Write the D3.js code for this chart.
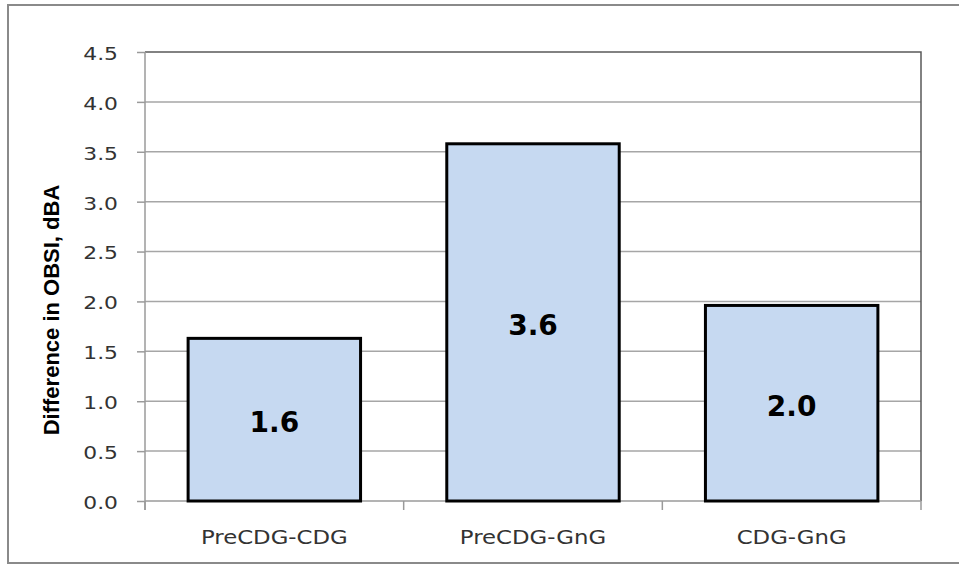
<!DOCTYPE html>
<html>
<head>
<meta charset="utf-8">
<script src="https://cdn.jsdelivr.net/npm/d3@7/dist/d3.min.js"></script>
<style>
  html, body { margin: 0; padding: 0; background: #fff; }
  svg { display: block; }
</style>
</head>
<body>
<svg id="chart" width="959" height="565"></svg>
<script>
// Bar chart data: OBSI differences between surface conditions
const categories = ["PreCDG-CDG", "PreCDG-GnG", "CDG-GnG"];
const values = [1.63, 3.58, 1.96];
const yTicks = [0, 0.5, 1, 1.5, 2, 2.5, 3, 3.5, 4, 4.5];
const yTitle = "Difference in OBSI, dBA";

const svg = d3.select("#chart");
const W = 959, H = 565;
const plot = { left: 145, top: 52, right: 921, bottom: 501 };

// outer chart frame
svg.append("rect")
  .attr("x", 8).attr("y", 5)
  .attr("width", W - 8 + 4).attr("height", 558)
  .attr("fill", "#fff")
  .attr("stroke", "#8a8a8a").attr("stroke-width", 2);

const x = d3.scaleBand()
  .domain(categories)
  .range([plot.left, plot.right])
  .paddingInner(1 / 3)
  .paddingOuter(1 / 6);

const y = d3.scaleLinear()
  .domain([0, 4.5])
  .range([plot.bottom, plot.top]);

// horizontal gridlines
svg.append("g")
  .selectAll("line")
  .data(yTicks.filter(d => d > 0 && d < 4.5))
  .join("line")
  .attr("x1", plot.left).attr("x2", plot.right)
  .attr("y1", d => y(d)).attr("y2", d => y(d))
  .attr("stroke", "#a6a6a6").attr("stroke-width", 1.5);

// plot area top and right edges
svg.append("path")
  .attr("d", `M${plot.left},${plot.top}H${plot.right}V${plot.bottom}`)
  .attr("fill", "none")
  .attr("stroke", "#5a5a5a").attr("stroke-width", 1.5);

// y axis
const yAxis = d3.axisLeft(y)
  .tickValues(yTicks)
  .tickSize(8)
  .tickPadding(19)
  .tickFormat(d3.format(".1f"));

const gy = svg.append("g")
  .attr("transform", `translate(${plot.left},0)`)
  .call(yAxis);
gy.select(".domain").attr("stroke", "#9a9a9a").attr("stroke-width", 1.5)
  .attr("d", `M0,${plot.top}V${plot.bottom + 9}`);
gy.selectAll(".tick line").attr("stroke", "#9a9a9a").attr("stroke-width", 1.5);
gy.selectAll(".tick text")
  .attr("fill", "#333")
  .attr("font-family", "DejaVu Sans")
  .attr("font-size", 18.5)
  .attr("x", null).attr("dy", null)
  .attr("dominant-baseline", "central")
  .attr("transform", "translate(-27,1) scale(1.18,1)");

// x axis with ticks at category boundaries
const gx = svg.append("g")
  .attr("transform", `translate(0,${plot.bottom})`);
gx.append("line")
  .attr("x1", plot.left).attr("x2", plot.right)
  .attr("stroke", "#9a9a9a").attr("stroke-width", 1.5);
const step = x.step();
gx.selectAll("line.bound")
  .data(d3.range(categories.length + 1))
  .join("line")
  .attr("class", "bound")
  .attr("x1", i => plot.left + i * step).attr("x2", i => plot.left + i * step)
  .attr("y1", 0).attr("y2", 9)
  .attr("stroke", "#9a9a9a").attr("stroke-width", 1.5);
gx.selectAll("text")
  .data(categories)
  .join("text")
  .attr("transform", d => `translate(${x(d) + x.bandwidth() / 2},${43}) scale(1.17,1)`)
  .attr("text-anchor", "middle")
  .attr("fill", "#333")
  .attr("font-family", "DejaVu Sans")
  .attr("font-size", 19.5)
  .text(d => d);

// bars
const data = categories.map((c, i) => ({ c, v: values[i] }));
svg.append("g")
  .selectAll("rect")
  .data(data)
  .join("rect")
  .attr("x", d => x(d.c))
  .attr("y", d => y(d.v))
  .attr("width", x.bandwidth())
  .attr("height", d => y(0) - y(d.v))
  .attr("fill", "#c6d9f1")
  .attr("stroke", "#000")
  .attr("stroke-width", 3);

// value labels in the middle of each bar
svg.append("g")
  .selectAll("text")
  .data(data)
  .join("text")
  .attr("x", d => x(d.c) + x.bandwidth() / 2)
  .attr("y", d => (y(d.v) + y(0)) / 2 + 3)
  .attr("text-anchor", "middle")
  .attr("dominant-baseline", "central")
  .attr("font-family", "DejaVu Sans")
  .attr("font-weight", "bold")
  .attr("font-size", 28)
  .attr("fill", "#000")
  .text(d => d3.format(".1f")(d.v));

// y axis title
svg.append("text")
  .attr("transform", "translate(51,310) rotate(-90)")
  .attr("text-anchor", "middle")
  .attr("dominant-baseline", "central")
  .attr("font-family", "Liberation Sans")
  .attr("font-weight", "bold")
  .attr("font-size", 22)
  .attr("fill", "#000")
  .text(yTitle);
</script>
</body>
</html>
